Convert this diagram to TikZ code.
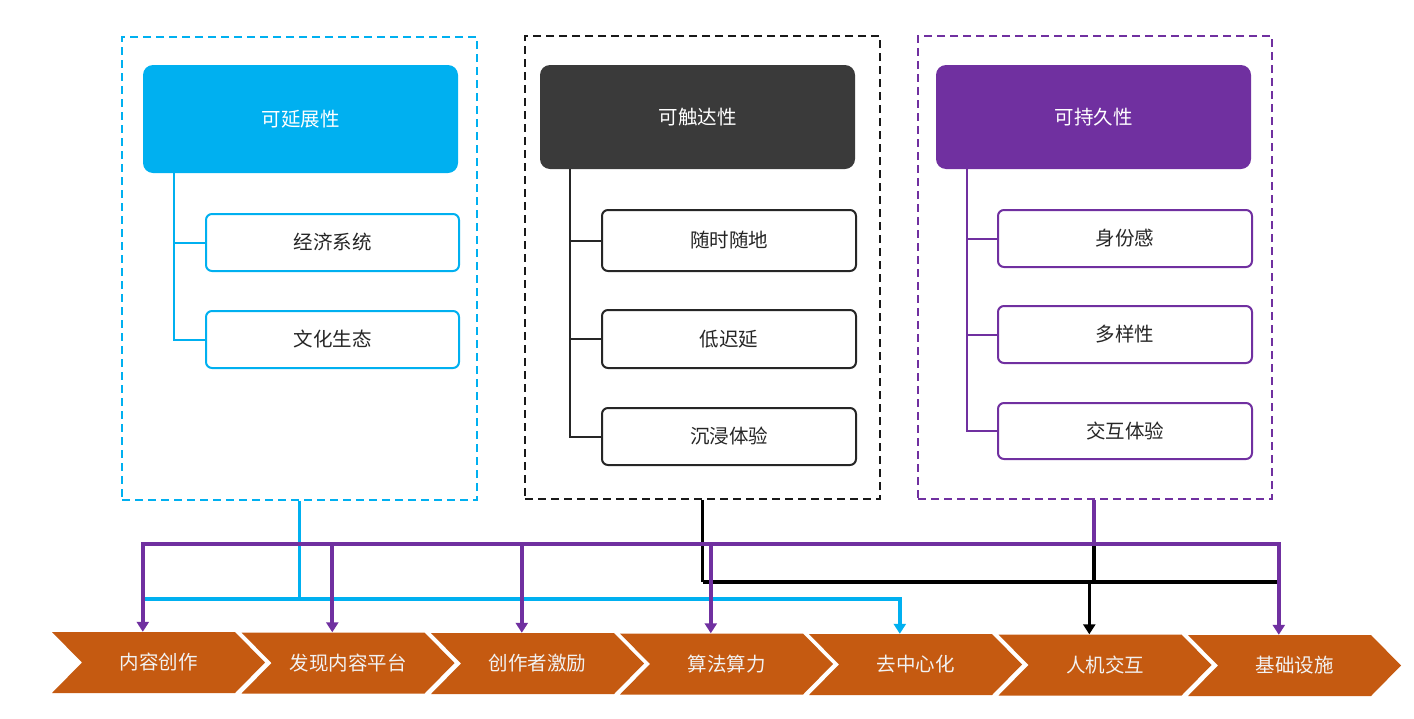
\documentclass[tikz,border=0pt]{standalone}
\usepackage{fontspec}
\setmainfont{Noto Sans CJK SC}
\usetikzlibrary{arrows.meta,calc}
\definecolor{cblue}{HTML}{00B0F0}
\definecolor{cdark}{HTML}{3A3A3A}
\definecolor{cpurple}{HTML}{7030A0}
\definecolor{corange}{HTML}{C55A11}
\definecolor{ctext}{HTML}{262626}
\begin{document}
\begin{tikzpicture}[x=1pt,y=-1pt,
  wh/.style 2 args={minimum width=#1pt, minimum height=#2pt},
  txt/.style={font=\fontsize{19.5}{23}\selectfont},
  group/.style={draw, dash pattern=on 8pt off 5pt, line width=1.8pt, inner sep=0pt},
  hdr/.style={txt, rounded corners=10pt, inner sep=0pt, text=white},
  sub/.style={txt, draw, line width=2pt, rounded corners=6pt, inner sep=0pt, fill=white, text=ctext},
  tree/.style={line width=2pt},
  chev/.style={txt, inner sep=0pt, wh={213}{61}, text=white!95!black,
    path picture={\fill[corange] (path picture bounding box.north west)
      -- ($(path picture bounding box.north east)+(-30pt,0pt)$)
      -- (path picture bounding box.east)
      -- ($(path picture bounding box.south east)+(-30pt,0pt)$)
      -- (path picture bounding box.south west)
      -- ($(path picture bounding box.west)+(30pt,0pt)$) -- cycle;}},
  conn/.style={line width=3.5pt},
  tip/.style={-{Triangle[width=12pt,length=10pt]}}
]
\useasboundingbox (0,0) rectangle (1414,718);

% group frames
\node[group, draw=cblue, wh={355}{463}] (gblue) at (299.5,268.5) {};
\node[group, draw=black!90, wh={355}{463}] (gblack) at (702.5,267.5) {};
\node[group, draw=cpurple, wh={354}{463}] (gpurple) at (1095,267.5) {};

% headers
\node[hdr, fill=cblue, wh={315}{108}] (hblue) at (300.5,119) {可延展性};
\node[hdr, fill=cdark, wh={315}{104}] (hblack) at (697.5,117) {可触达性};
\node[hdr, fill=cpurple, wh={315}{104}] (hpurple) at (1093.5,117) {可持久性};

% sub boxes
\node[sub, draw=cblue, wh={253}{57}] (b1) at (332.5,242.5) {经济系统};
\node[sub, draw=cblue, wh={253}{57}] (b2) at (332.5,339.5) {文化生态};
\node[sub, draw=ctext, wh={254}{61}] (k1) at (729,240.5) {随时随地};
\node[sub, draw=ctext, wh={254}{58}] (k2) at (729,339) {低迟延};
\node[sub, draw=ctext, wh={254}{57}] (k3) at (729,436.5) {沉浸体验};
\node[sub, draw=cpurple, wh={254}{57}] (p1) at (1125,238.5) {身份感};
\node[sub, draw=cpurple, wh={254}{57}] (p2) at (1125,334.5) {多样性};
\node[sub, draw=cpurple, wh={254}{56}] (p3) at (1125,431) {交互体验};

% tree connectors
\coordinate (tb) at ($(hblue.south west)+(31,0)$);
\draw[tree, cblue] (tb) |- (b2.west);
\draw[tree, cblue] (tb) |- (b1.west);
\coordinate (tk) at ($(hblack.south west)+(30,0)$);
\draw[tree, ctext] (tk) |- (k3.west);
\draw[tree, ctext] (tk) |- (k2.west);
\draw[tree, ctext] (tk) |- (k1.west);
\coordinate (tp) at ($(hpurple.south west)+(31,0)$);
\draw[tree, cpurple] (tp) |- (p3.west);
\draw[tree, cpurple] (tp) |- (p2.west);
\draw[tree, cpurple] (tp) |- (p1.west);

% chevrons
\node[chev] (c1) at (158.5,662.5) {内容创作};
\node[chev] (c2) at (348,663) {发现内容平台};
\node[chev] (c3) at (537.5,663.5) {创作者激励};
\node[chev] (c4) at (726.5,664) {算法算力};
\node[chev] (c5) at (915.5,664.5) {去中心化};
\node[chev] (c6) at (1105,665) {人机交互};
\node[chev] (c7) at (1294.5,665.5) {基础设施};
\foreach \i in {1,...,7}{\coordinate (a\i) at ($(c\i.north west)+(91,0)$);}

% black connectors
\draw[conn, black] (gblack.south) -- ++(0,82) coordinate (kj);
\draw[conn, black] (kj) -- (kj -| a7);
\coordinate (pj) at ($(gpurple.south)+(-1,44)$);
\draw[conn, black] (pj) -- (pj |- kj);
\draw[conn, black, tip] (kj -| a6) -- (a6);

% blue connectors
\draw[conn, cblue] (gblue.south) -- ++(0,98) coordinate (bj);
\draw[conn, cblue] (bj) -- (bj -| a1);
\draw[conn, cblue, tip] (bj) -| (a5);

% purple connectors
\draw[conn, cpurple, line width=4pt] (gpurple.south -| pj) -- (pj);
\foreach \i in {1,2,3,4,7}{\draw[conn, cpurple, line width=4pt, tip] (pj) -| (a\i);}
\end{tikzpicture}
\end{document}
